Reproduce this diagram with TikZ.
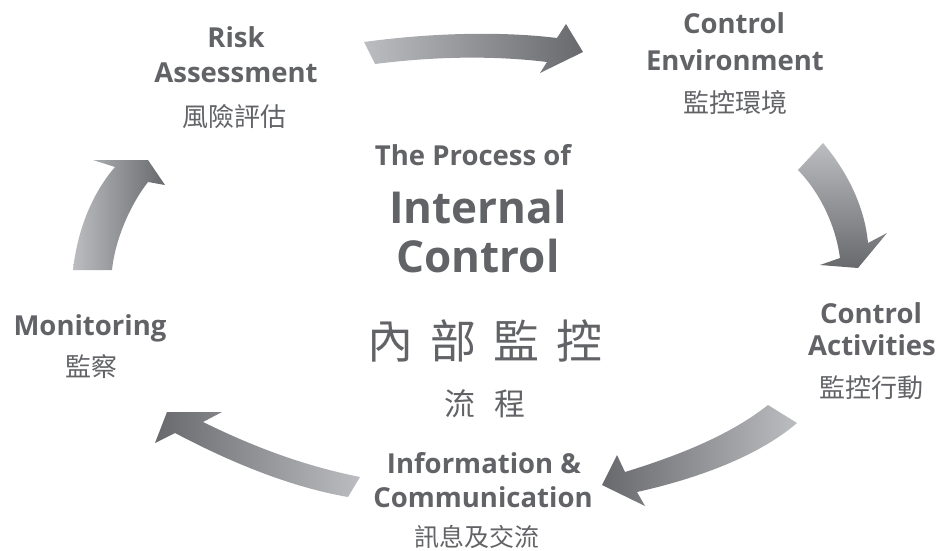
\documentclass[tikz,border=0pt]{standalone}
\usepackage{fontspec}
\setmainfont{Open Sans}
\newfontfamily\cjk{Noto Sans CJK TC}
\definecolor{txtgray}{RGB}{98,99,102}
\definecolor{arrlight}{RGB}{188,189,193}
\definecolor{arrdark}{RGB}{104,105,109}
\tikzset{
  lbl/.style={anchor=base, inner sep=0pt, text=txtgray, font=\fontsize{27.5}{32}\selectfont\bfseries},
  zh/.style={inner sep=0pt, text=txtgray, font=\fontsize{26}{30}\selectfont\cjk},
  blockarrow/.style={draw=none}
}
\begin{document}
\begin{tikzpicture}[x=1pt,y=-1pt]
  \useasboundingbox (0,0) rectangle (938,551);

  % the five block arrows
  \shade[blockarrow, left color=arrlight, right color=arrdark]
    (364,42) .. controls (430,33) and (500,31) .. (557,38) -- (566,24) -- (583,52)
    -- (540,73) -- (547,62) .. controls (490,55) and (430,57) .. (375,64) -- cycle;
  \shade[blockarrow, top color=arrlight, bottom color=arrdark]
    (823,143) .. controls (850,175) and (865,210) .. (868,243) -- (887,233) -- (858,268)
    -- (820,265) -- (840,258) .. controls (836,228) and (822,195) .. (798,170) -- cycle;
  \shade[blockarrow, left color=arrdark, right color=arrlight]
    (768,405) .. controls (730,435) and (680,455) .. (625,472) -- (617,455) -- (602,485)
    -- (645,506) -- (637,492) .. controls (700,478) and (760,455) .. (797,423) -- cycle;
  \shade[blockarrow, left color=arrdark, right color=arrlight]
    (203,422) .. controls (250,445) and (300,465) .. (360,477) -- (348,497)
    .. controls (290,487) and (230,462) .. (175,433) -- (155,443) -- (167,412)
    -- (222,412) -- cycle;
  \shade[blockarrow, left color=arrlight, right color=arrdark]
    (73,270) .. controls (78,225) and (95,190) .. (115,167) -- (93,160) -- (148,160)
    -- (165,185) -- (148,182) .. controls (130,205) and (115,240) .. (112,270) -- cycle;

  % steps of the cycle
  \node[lbl] (risk1) at (236,48) {Risk};
  \node[lbl] (risk2) at (236,83) {Assessment};
  \node[zh]  (riskzh) at (234,117) {風險評估};

  \node[lbl] (env1) at (734,34) {Control};
  \node[lbl] (env2) at (735,71) {Environment};
  \node[zh]  (envzh) at (735,103) {監控環境};

  \node[lbl] (act1) at (871,323) {Control};
  \node[lbl] (act2) at (872,355) {Activities};
  \node[zh]  (actzh) at (871,388) {監控行動};

  \node[lbl] (info1) at (484,473) {Information \&};
  \node[lbl] (info2) at (483,507) {Communication};
  \node[zh, font=\fontsize{25}{30}\selectfont\cjk] (infozh) at (477,537) {訊息及交流};

  \node[lbl] (mon1) at (90,335) {Monitoring};
  \node[zh]  (monzh) at (91,367) {監察};

  % title in the middle
  \node[lbl, font=\fontsize{27.5}{32}\selectfont\bfseries] (title1) at (473,165) {The Process of};
  \node[lbl, font=\fontsize{44}{50}\selectfont\bfseries] (title2) at (478,223) {Internal};
  \node[lbl, font=\fontsize{44}{50}\selectfont\bfseries] (title3) at (478,272) {Control};
  \node[zh, font=\fontsize{46}{50}\selectfont\cjk] (titlezh) at (485,341)
    {內\hspace{17pt}部\hspace{17pt}監\hspace{17pt}控};
  \node[zh, font=\fontsize{31}{34}\selectfont\cjk] (titlezh2) at (485,404) {流\hspace{20pt}程};
\end{tikzpicture}
\end{document}
